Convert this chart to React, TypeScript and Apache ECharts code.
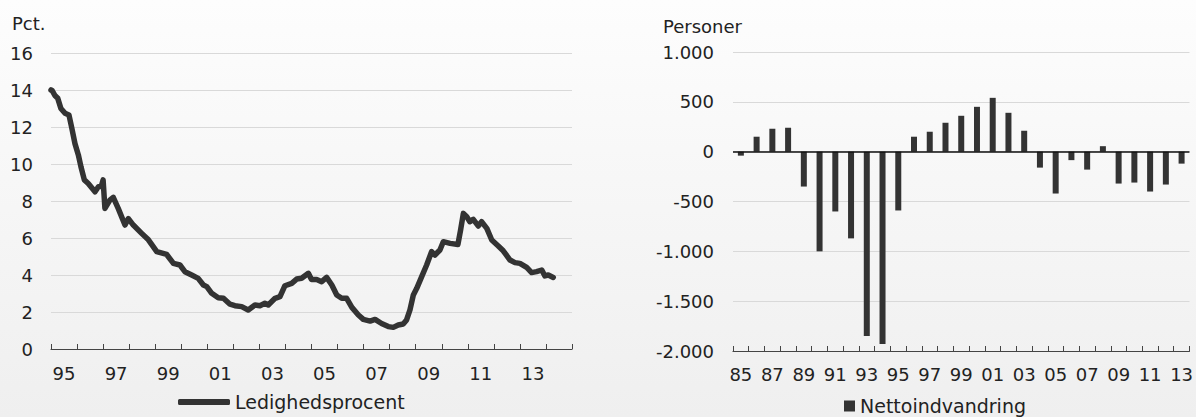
import React, { useEffect, useRef } from "react";
import * as echarts from "echarts";

// Left chart: unemployment rate (decimal year, percent)
const lineYears = [
  1995.0, 1995.05, 1995.15, 1995.26, 1995.38, 1995.54, 1995.69, 1995.79, 1995.92,
  1996.05, 1996.15, 1996.28, 1996.43, 1996.69, 1996.82, 1996.93, 1997.0, 1997.07,
  1997.26, 1997.39, 1997.58, 1997.84, 1997.97, 1998.16, 1998.48, 1998.74, 1999.06,
  1999.44, 1999.7, 1999.95, 2000.14, 2000.4, 2000.65, 2000.85, 2000.98, 2001.17,
  2001.42, 2001.62, 2001.87, 2002.06, 2002.32, 2002.57, 2002.83, 2003.02, 2003.21,
  2003.34, 2003.6, 2003.79, 2003.98, 2004.24, 2004.43, 2004.62, 2004.88, 2005.0,
  2005.2, 2005.39, 2005.58, 2005.78, 2005.97, 2006.16, 2006.35, 2006.55, 2006.8,
  2006.99, 2007.25, 2007.44, 2007.69, 2007.95, 2008.14, 2008.33, 2008.52, 2008.65,
  2008.78, 2008.91, 2009.04, 2009.23, 2009.42, 2009.61, 2009.74, 2009.93, 2010.06,
  2010.32, 2010.62, 2010.72, 2010.83, 2010.96, 2011.08, 2011.21, 2011.4, 2011.53,
  2011.73, 2011.92, 2012.17, 2012.36, 2012.62, 2012.81, 2013.0, 2013.26, 2013.45,
  2013.64, 2013.84, 2013.96, 2014.09, 2014.28,
];
const lineValues = [
  14.0, 13.96, 13.7, 13.55, 13.0, 12.74, 12.65, 12.0, 11.1,
  10.49, 9.85, 9.14, 8.95, 8.5, 8.77, 8.8, 9.14, 7.6,
  8.05, 8.2, 7.6, 6.7, 7.05, 6.7, 6.25, 5.9, 5.26,
  5.11, 4.63, 4.54, 4.18, 4.0, 3.82, 3.46, 3.37, 3.01,
  2.77, 2.74, 2.42, 2.34, 2.29, 2.11, 2.38, 2.34, 2.47,
  2.38, 2.74, 2.83, 3.42, 3.55, 3.78, 3.82, 4.09, 3.76,
  3.76, 3.64, 3.87, 3.46, 2.92, 2.74, 2.74, 2.25, 1.84,
  1.6, 1.51, 1.6, 1.38, 1.21, 1.17, 1.3, 1.35, 1.57,
  2.11, 2.92, 3.28, 3.91, 4.54, 5.26, 5.08, 5.35, 5.8,
  5.71, 5.65, 6.4, 7.33, 7.15, 6.88, 7.01, 6.65, 6.88,
  6.52, 5.89, 5.57, 5.31, 4.81, 4.67, 4.63, 4.41, 4.13,
  4.18, 4.27, 3.95, 4.0, 3.87,
];
const lineCategories = [
  "95", "96", "97", "98", "99", "00", "01", "02", "03", "04",
  "05", "06", "07", "08", "09", "10", "11", "12", "13", "14",
];
const leftTicks = [0, 16, 2]; // min, max, interval

// Right chart: net immigration (persons)
const barCategories = [
  "85", "86", "87", "88", "89", "90", "91", "92", "93", "94",
  "95", "96", "97", "98", "99", "00", "01", "02", "03", "04",
  "05", "06", "07", "08", "09", "10", "11", "12", "13",
];
const barValues = [
  -40, 150, 230, 240, -350, -1000, -600, -870, -1850, -1930,
  -590, 150, 200, 290, 360, 450, 540, 390, 210, -160,
  -420, -85, -180, 55, -320, -310, -400, -330, -120,
];
const rightTicks = [-2000, 1000, 500];

const FONT = "DejaVu Sans";
const TXT = "#222222";
const DARK = "#333333";

function fmtThousands(v: number): string {
  const s = Math.abs(v).toString().replace(/\B(?=(\d{3})+(?!\d))/g, ".");
  return (v < 0 ? "-" : "") + s;
}

export default function App() {
  const ref = useRef<HTMLDivElement>(null);
  useEffect(() => {
    document.body.style.margin = "0";
    if (!ref.current) return;
    const chart = echarts.init(ref.current, undefined, { renderer: "svg" });
    const lineData = lineYears.map((y, i) => [y, lineValues[i]]);
    const axisLabelStyle = { color: TXT, fontFamily: FONT, fontSize: 18 };
    chart.setOption({
      animation: false,
      backgroundColor: "transparent",
      textStyle: { fontFamily: FONT },
      grid: [
        { left: 51, right: 624, top: 53, bottom: 68 },
        { left: 733, right: 4, top: 52, bottom: 66 },
      ],
      xAxis: [
        {
          type: "category",
          gridIndex: 0,
          data: lineCategories,
          boundaryGap: true,
          axisLine: { lineStyle: { color: "#444", width: 1.2 } },
          axisTick: { show: true, inside: true, length: 5, interval: 0, lineStyle: { color: "#444" } },
          axisLabel: { ...axisLabelStyle, interval: 1, margin: 15 },
          splitLine: { show: false },
        },
        {
          type: "value",
          gridIndex: 0,
          min: 1995,
          max: 2015,
          show: false,
        },
        {
          type: "category",
          gridIndex: 1,
          data: barCategories,
          boundaryGap: true,
          axisLine: { onZero: false, lineStyle: { color: "#444", width: 1.2 } },
          axisTick: { show: true, inside: true, length: 5, interval: 0, lineStyle: { color: "#444" } },
          axisLabel: { ...axisLabelStyle, interval: 1, margin: 14 },
          splitLine: { show: false },
        },
      ],
      yAxis: [
        {
          type: "value",
          gridIndex: 0,
          min: leftTicks[0],
          max: leftTicks[1],
          interval: leftTicks[2],
          axisLine: { show: false },
          axisTick: { show: false },
          axisLabel: { ...axisLabelStyle, margin: 18 },
          splitLine: { lineStyle: { color: "#d9d9d9", width: 1.2 } },
        },
        {
          type: "value",
          gridIndex: 1,
          min: rightTicks[0],
          max: rightTicks[1],
          interval: rightTicks[2],
          axisLine: { show: false },
          axisTick: { show: false },
          axisLabel: { ...axisLabelStyle, margin: 19, formatter: (v: number) => fmtThousands(v) },
          splitLine: { lineStyle: { color: "#d9d9d9", width: 1.2 } },
        },
      ],
      legend: [
        {
          left: 178,
          top: 392,
          itemWidth: 52,
          itemHeight: 6,
          padding: 0,
          icon: "roundRect",
          textStyle: { color: TXT, fontFamily: FONT, fontSize: 19, lineHeight: 20 },
          data: [{ name: "Ledighedsprocent", icon: "roundRect" }],
        },
        {
          left: 844,
          top: 396,
          itemWidth: 11,
          itemHeight: 11,
          padding: 0,
          icon: "rect",
          textStyle: { color: TXT, fontFamily: FONT, fontSize: 19, lineHeight: 20 },
          data: ["Nettoindvandring"],
        },
      ],
      graphic: [
        {
          type: "text",
          left: 12,
          top: 14,
          style: { text: "Pct.", fill: TXT, font: `18px "${FONT}"` },
        },
        {
          type: "text",
          left: 663,
          top: 17,
          style: { text: "Personer", fill: TXT, font: `18px "${FONT}"` },
        },
      ],
      series: [
        {
          name: "Ledighedsprocent",
          type: "line",
          xAxisIndex: 1,
          yAxisIndex: 0,
          data: lineData,
          symbol: "none",
          smooth: false,
          lineStyle: { color: DARK, width: 5.5, cap: "round", join: "round" },
          itemStyle: { color: DARK },
        },
        {
          name: "Nettoindvandring",
          type: "bar",
          xAxisIndex: 2,
          yAxisIndex: 1,
          data: barValues,
          barWidth: 6,
          itemStyle: { color: DARK },
          markLine: {
            silent: true,
            symbol: "none",
            label: { show: false },
            lineStyle: { color: "#111", width: 1.5, type: "solid" },
            data: [{ yAxis: 0 }],
          },
        },
      ],
    });
    return () => chart.dispose();
  }, []);
  return (
    <div
      ref={ref}
      style={{
        width: 1196,
        height: 417,
        background: "linear-gradient(to bottom, #fdfdfd 0%, #efefef 100%)",
      }}
    />
  );
}
